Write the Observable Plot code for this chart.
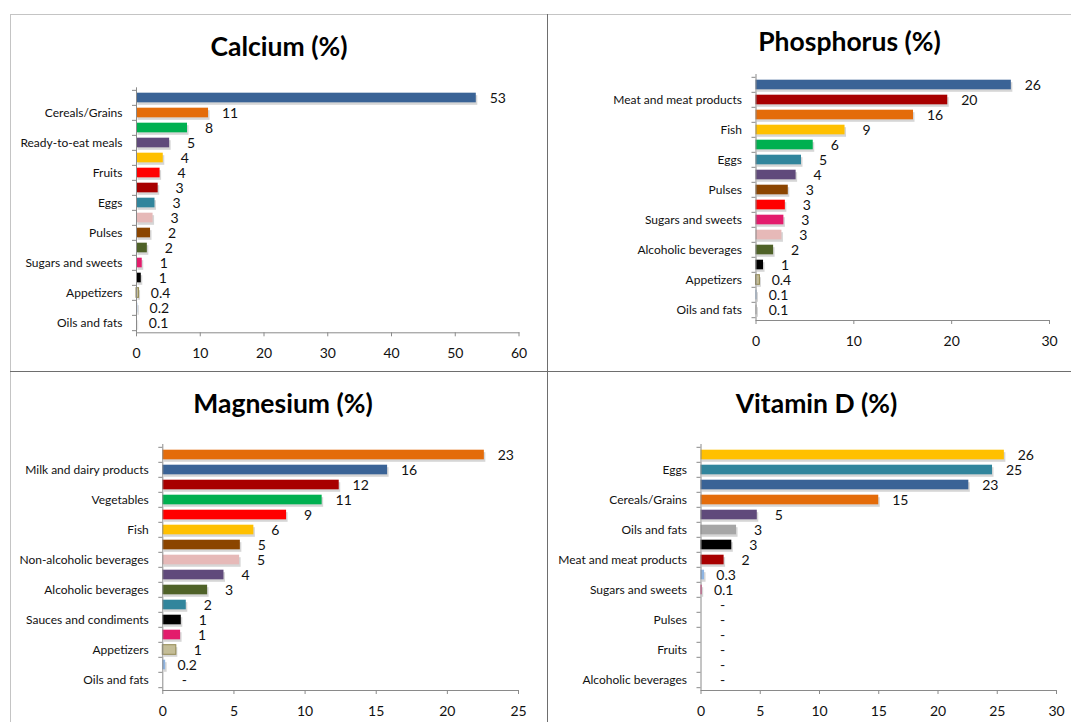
<!DOCTYPE html>
<html>
<head>
<meta charset="utf-8">
<script src="https://cdn.jsdelivr.net/npm/d3@7"></script>
<script src="https://cdn.jsdelivr.net/npm/@observablehq/plot@0.6"></script>
<style>
  html, body { margin: 0; padding: 0; background: #fff; }
  #root { position: relative; width: 1071px; height: 722px; overflow: hidden; font-family: Lato, sans-serif; }
  .rule { position: absolute; }
  .title { position: absolute; font: 700 26.5px/1.2 Lato, sans-serif; color: #000; text-align: center; white-space: nowrap; }
  .panel { position: absolute; }
  .panel svg { overflow: visible; }
</style>
</head>
<body>
<div id="root"></div>
<script>
// ---------------- DATA ----------------
const calciumCategories = ["Milk and dairy products", "Cereals/Grains", "Vegetables", "Ready-to-eat meals", "Fish", "Fruits", "Meat and meat products", "Eggs", "Non-alcoholic beverages", "Pulses", "Alcoholic beverages", "Sugars and sweets", "Sauces and condiments", "Appetizers", "Other foods", "Oils and fats"];
const calciumValues = [53.3, 11.3, 8.0, 5.2, 4.2, 3.7, 3.4, 2.9, 2.6, 2.2, 1.7, 0.9, 0.75, 0.4, 0.2, 0.1];
const calciumAxisLabels = ["Cereals/Grains", "Ready-to-eat meals", "Fruits", "Eggs", "Pulses", "Sugars and sweets", "Appetizers", "Oils and fats"];
const calciumTicks = [0, 10, 20, 30, 40, 50, 60];

const phosphorusCategories = ["Milk and dairy products", "Meat and meat products", "Cereals/Grains", "Fish", "Vegetables", "Eggs", "Ready-to-eat meals", "Pulses", "Fruits", "Sugars and sweets", "Non-alcoholic beverages", "Alcoholic beverages", "Sauces and condiments", "Appetizers", "Other foods", "Oils and fats"];
const phosphorusValues = [26.1, 19.6, 16.1, 9.1, 5.85, 4.65, 4.1, 3.3, 3.0, 2.85, 2.65, 1.8, 0.77, 0.4, 0.1, 0.1];
const phosphorusAxisLabels = ["Meat and meat products", "Fish", "Eggs", "Pulses", "Sugars and sweets", "Alcoholic beverages", "Appetizers", "Oils and fats"];
const phosphorusTicks = [0, 10, 20, 30];

const magnesiumCategories = ["Cereals/Grains", "Milk and dairy products", "Meat and meat products", "Vegetables", "Fruits", "Fish", "Pulses", "Non-alcoholic beverages", "Ready-to-eat meals", "Alcoholic beverages", "Eggs", "Sauces and condiments", "Sugars and sweets", "Appetizers", "Other foods", "Oils and fats"];
const magnesiumValues = [22.6, 15.8, 12.4, 11.2, 8.7, 6.4, 5.45, 5.4, 4.3, 3.15, 1.65, 1.3, 1.25, 0.95, 0.2, 0];
const magnesiumAxisLabels = ["Milk and dairy products", "Vegetables", "Fish", "Non-alcoholic beverages", "Alcoholic beverages", "Sauces and condiments", "Appetizers", "Oils and fats"];
const magnesiumTicks = [0, 5, 10, 15, 20, 25];

const vitaminDCategories = ["Fish", "Eggs", "Milk and dairy products", "Cereals/Grains", "Ready-to-eat meals", "Oils and fats", "Sauces and condiments", "Meat and meat products", "Other foods", "Sugars and sweets", "Non-alcoholic beverages", "Pulses", "Vegetables", "Fruits", "Appetizers", "Alcoholic beverages"];
const vitaminDValues = [25.6, 24.6, 22.6, 15.0, 4.75, 3.0, 2.6, 1.95, 0.3, 0.1, 0, 0, 0, 0, 0, 0];
const vitaminDAxisLabels = ["Eggs", "Cereals/Grains", "Oils and fats", "Meat and meat products", "Sugars and sweets", "Pulses", "Fruits", "Alcoholic beverages"];
const vitaminDTicks = [0, 5, 10, 15, 20, 25, 30];

// ---------------- STYLE ----------------
const categoryColor = {
  "Milk and dairy products": "#3a6396",
  "Cereals/Grains": "#e46c0a",
  "Vegetables": "#00b050",
  "Ready-to-eat meals": "#604a7b",
  "Fish": "#ffc000",
  "Fruits": "#ff0000",
  "Meat and meat products": "#a80000",
  "Eggs": "#31859c",
  "Non-alcoholic beverages": "#e6b9b8",
  "Pulses": "#8b4500",
  "Alcoholic beverages": "#4f6228",
  "Sugars and sweets": "#e31c6c",
  "Sauces and condiments": "#000000",
  "Appetizers": "#c4bd97",
  "Other foods": "#8db4e2",
  "Oils and fats": "#a6a6a6"
};
const axisColor = "#8a8a8a";
const textColor = "#111";

const root = document.getElementById("root");

function addRule(left, top, w, h, color) {
  const d = document.createElement("div");
  d.className = "rule";
  Object.assign(d.style, {left: left + "px", top: top + "px", width: w + "px", height: h + "px", background: color});
  root.appendChild(d);
}
addRule(10, 14, 1061, 1, "#c4c4c4");
addRule(10, 14, 1, 708, "#c4c4c4");
addRule(547, 14, 1, 708, "#6e6e6e");
addRule(10, 371, 1061, 1, "#6e6e6e");

function fmt(v) {
  if (v === 0) return "-";
  if (v < 0.5) return v.toFixed(1);
  return String(Math.round(v));
}

function addTitle(text, centerX, top) {
  const d = document.createElement("div");
  d.className = "title";
  d.textContent = text;
  Object.assign(d.style, {left: (centerX - 150) + "px", width: "300px", top: top + "px"});
  root.appendChild(d);
}

function addPanel(cfg) {
  const {categories, values, axisLabels, ticks, left, top, width, height, mLeft, mRight, mTop, mBottom} = cfg;
  const data = categories.map((c, i) => ({category: c, value: values[i]}));
  const step = (height - mTop - mBottom) / categories.length;
  const inset = step * 0.175;
  const xMax = ticks[ticks.length - 1];
  const chart = Plot.plot({
    width, height,
    marginLeft: mLeft, marginRight: mRight, marginTop: mTop, marginBottom: mBottom,
    style: {fontFamily: "Lato, sans-serif", fontSize: "12px", color: textColor, background: "transparent", overflow: "visible"},
    x: {domain: [0, xMax], axis: null},
    y: {domain: categories, padding: 0, axis: null},
    color: {domain: Object.keys(categoryColor), range: Object.values(categoryColor)},
    marks: [
      // shadow
      Plot.barX(data, {x: "value", y: "category", fill: "#b5b5b5", fillOpacity: 0.55, insetTop: inset, insetBottom: inset, dx: 1.5, dy: 2.5}),
      // bars
      Plot.barX(data, {x: "value", y: "category", fill: "category", insetTop: inset, insetBottom: inset}),
      Plot.barX(data.filter(d => d.category === "Appetizers"), {x: "value", y: "category", fill: "none", stroke: "#948a54", strokeWidth: 1, insetTop: inset, insetBottom: inset}),
      // axis lines
      Plot.ruleX([0], {stroke: axisColor}),
      Plot.frame({anchor: "bottom", stroke: axisColor}),
      // category boundary ticks
      Plot.axisY({ticks: categories, tickSize: 4, tickFormat: () => "", dy: -step / 2, stroke: axisColor, label: null}),
      Plot.axisY({ticks: [categories[categories.length - 1]], tickSize: 4, tickFormat: () => "", dy: step / 2, stroke: axisColor, label: null}),
      // category labels (every other)
      Plot.axisY({ticks: axisLabels, tickSize: 0, tickPadding: 14, fontSize: 12, label: null}),
      // x axis
      Plot.axisX({ticks, tickSize: 4, tickPadding: 11.5, fontSize: 14, stroke: axisColor, label: null, tickFormat: d3.format("d")}),
      // value labels
      Plot.text(data, {x: "value", y: "category", text: d => fmt(d.value), dx: 21.5, dy: 1, textAnchor: "middle", fontSize: 14, fill: textColor})
    ]
  });
  const wrap = document.createElement("div");
  wrap.className = "panel";
  Object.assign(wrap.style, {left: left + "px", top: top + "px", width: width + "px", height: height + "px"});
  wrap.appendChild(chart);
  root.appendChild(wrap);
}

addTitle("Calcium (%)", 279, 31.3);
addPanel({categories: calciumCategories, values: calciumValues, axisLabels: calciumAxisLabels, ticks: calciumTicks,
  left: 11, top: 70, width: 535, height: 300, mLeft: 125, mRight: 27.5, mTop: 17.3, mBottom: 37.7});

addTitle("Phosphorus (%)", 849.5, 26);
addPanel({categories: phosphorusCategories, values: phosphorusValues, axisLabels: phosphorusAxisLabels, ticks: phosphorusTicks,
  left: 549, top: 60, width: 522, height: 310, mLeft: 206.5, mRight: 22, mTop: 14, mBottom: 50});

addTitle("Magnesium (%)", 283, 387.6);
addPanel({categories: magnesiumCategories, values: magnesiumValues, axisLabels: magnesiumAxisLabels, ticks: magnesiumTicks,
  left: 11, top: 425, width: 535, height: 297, mLeft: 151.3, mRight: 28, mTop: 19, mBottom: 32});

addTitle("Vitamin D (%)", 816.5, 387.6);
addPanel({categories: vitaminDCategories, values: vitaminDValues, axisLabels: vitaminDAxisLabels, ticks: vitaminDTicks,
  left: 549, top: 425, width: 522, height: 297, mLeft: 151.5, mRight: 15, mTop: 19, mBottom: 32});
</script>
</body>
</html>
